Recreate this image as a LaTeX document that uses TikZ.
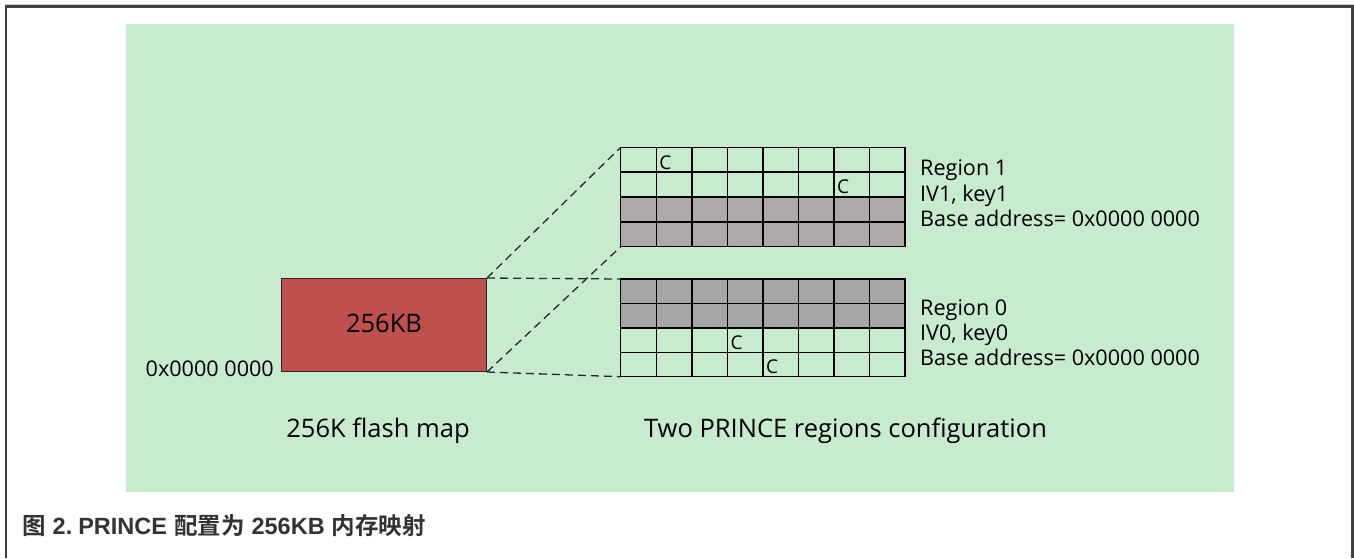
\documentclass[tikz,border=0pt]{standalone}
\usepackage{fontspec}
\setmainfont{Open Sans}
\newfontfamily\cjk[BoldFont={Noto Sans CJK SC Bold}]{Noto Sans CJK SC}
\newfontfamily\capfont{Liberation Sans}
\definecolor{panelgreen}{RGB}{200,235,207}
\definecolor{flashred}{RGB}{192,80,77}
\definecolor{grayA}{RGB}{173,169,169}
\definecolor{grayB}{RGB}{166,166,166}
\definecolor{framegray}{RGB}{64,64,64}
\definecolor{captext}{RGB}{51,51,51}
\definecolor{dashcol}{RGB}{40,40,40}
\tikzset{
  cellgreen/.style={fill=panelgreen, draw=black, line width=1.5pt},
  cellgray/.style={draw=black, line width=1.5pt},
  link/.style={draw=dashcol, line width=1.3pt, dash pattern=on 8pt off 5pt},
  body/.style={font=\fontsize{21.6}{25}\selectfont, text=black, inner sep=0pt},
  label/.style={font=\fontsize{25.5}{30}\selectfont, text=black, inner sep=0pt},
  cmark/.style={font=\fontsize{19}{21}\selectfont, text=black, inner sep=0pt, anchor=base west},
}
\begin{document}
\begin{tikzpicture}[x=1pt,y=-1pt]
\useasboundingbox (0,0) rectangle (1354,558);
\fill[white] (0,0) rectangle (1354,558);
% frame
\draw[gray!40, line width=1pt] (5,4) -- (1354,4);
\draw[framegray, line width=2.5pt] (6,558) -- (6,6.5) -- (1352.5,6.5) -- (1352.5,558);
% panel
\fill[panelgreen] (126,24) rectangle (1234,492);

% flash block
\node[draw=black!85, line width=1pt, fill=flashred, minimum width=205pt, minimum height=93pt, inner sep=0pt, anchor=north west] (flash) at (281,278) {};
\node[body, font=\fontsize{25.5}{30}\selectfont, anchor=base] (kb) at (384,332.7) {256KB};
\node[body, anchor=base east] (addr) at (274,376.7) {0x0000 0000};

% region 1 grid (top)
\def\gx{620.7}
\def\cw{35.55}
\foreach \r in {0,1} {
  \foreach \c in {0,...,7} {
    \draw[cellgreen] ({\gx+\c*\cw},{147.3+\r*24.85}) rectangle ({\gx+(\c+1)*\cw},{147.3+(\r+1)*24.85});
  }
}
\foreach \r in {2,3} {
  \foreach \c in {0,...,7} {
    \draw[cellgray, fill=grayA] ({\gx+\c*\cw},{147.3+\r*24.85}) rectangle ({\gx+(\c+1)*\cw},{147.3+(\r+1)*24.85});
  }
}
\coordinate (r1tl) at (\gx,147.3);
\coordinate (r1bl) at (\gx,246.7);
\node[cmark] (c1) at ({\gx+1*\cw+3},169) {C};
\node[cmark] (c2) at ({\gx+6*\cw+3},193.5) {C};

% region 0 grid (bottom)
\foreach \r in {0,1} {
  \foreach \c in {0,...,7} {
    \draw[cellgray, fill=grayB] ({\gx+\c*\cw},{279+\r*24.43}) rectangle ({\gx+(\c+1)*\cw},{279+(\r+1)*24.43});
  }
}
\foreach \r in {2,3} {
  \foreach \c in {0,...,7} {
    \draw[cellgreen] ({\gx+\c*\cw},{279+\r*24.43}) rectangle ({\gx+(\c+1)*\cw},{279+(\r+1)*24.43});
  }
}
\coordinate (r0tl) at (\gx,279);
\coordinate (r0bl) at (\gx,376.7);
\node[cmark] (c3) at ({\gx+3*\cw+3},349) {C};
\node[cmark] (c4) at ({\gx+4*\cw+3},373.5) {C};

% dashed projection lines
\draw[link] (flash.north east) -- (r1tl);
\draw[link] (flash.south east) -- (r1bl);
\draw[link] (flash.north east) -- (r0tl);
\draw[link] (flash.south east) -- (r0bl);

% region descriptions
\node[body, anchor=base west] (t1a) at (920,175.7) {Region 1};
\node[body, anchor=base west] (t1b) at (920,201.2) {IV1, key1};
\node[body, anchor=base west] (t1c) at (920,226.7) {Base address= 0x0000 0000};
\node[body, anchor=base west] (t0a) at (920,315) {Region 0};
\node[body, anchor=base west] (t0b) at (920,340) {IV0, key0};
\node[body, anchor=base west] (t0c) at (920,365) {Base address= 0x0000 0000};

% bottom labels
\node[label, anchor=base] (lmap) at (378,437) {256K flash map};
\node[label, anchor=base] (lcfg) at (845.5,437) {Two PRINCE regions configuration};

% caption
\node[inner sep=0pt, anchor=base west, text=captext, font=\fontsize{23.5}{26}\selectfont\bfseries] (cap) at (22,534)
  {{\cjk 图}\hspace{7pt}{\capfont 2.\hspace{6pt}PRINCE}\hspace{7pt}{\cjk 配置为}\hspace{7pt}{\capfont 256KB}\hspace{7pt}{\cjk 内存映射}};
\end{tikzpicture}
\end{document}
